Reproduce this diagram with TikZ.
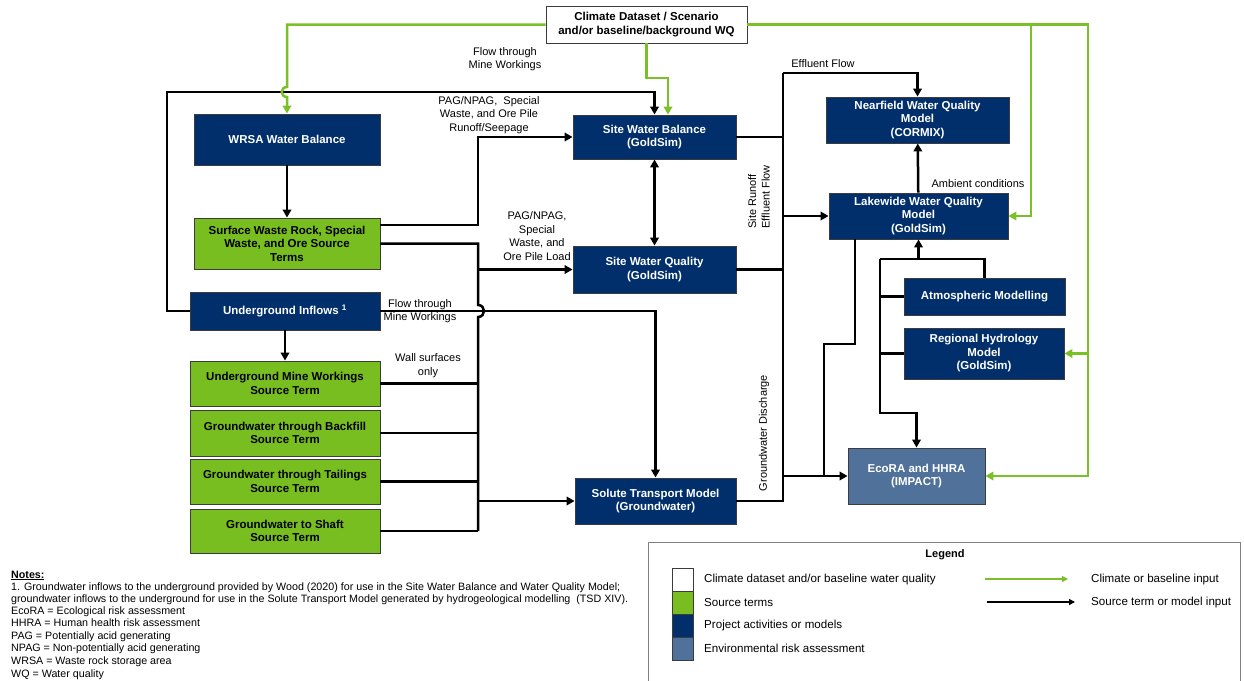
\documentclass[tikz,border=0pt]{standalone}
\usepackage{fontspec}
\setmainfont{Liberation Sans}
\usetikzlibrary{arrows.meta,calc}
\definecolor{navy}{RGB}{0,47,108}
\definecolor{srcgreen}{RGB}{120,190,32}
\definecolor{lngreen}{RGB}{122,193,40}
\definecolor{steel}{RGB}{80,113,153}
\definecolor{bordergray}{RGB}{60,60,60}
\definecolor{leggray}{RGB}{128,128,128}
\begin{document}
\begin{tikzpicture}[x=1pt,y=-1pt,
  box/.style={draw=bordergray,line width=0.9pt,align=center,inner sep=0pt,
    font=\fontsize{11.5}{13.5}\selectfont\bfseries},
  navybox/.style={box,fill=navy,text=white},
  srcbox/.style={box,fill=srcgreen,text=black},
  riskbox/.style={box,fill=steel,text=white},
  conn/.style={line width=2.5pt,black},
  arr/.style={conn,-{Triangle[length=8pt,width=8.5pt]}},
  darr/.style={conn,{Triangle[length=8pt,width=8.5pt]}-{Triangle[length=8pt,width=8.5pt]}},
  gconn/.style={line width=2.5pt,lngreen},
  garr/.style={gconn,-{Triangle[length=8pt,width=8.5pt]}},
  lbl/.style={font=\fontsize{11}{13.5}\selectfont,align=center,inner sep=0pt},
  note/.style={font=\fontsize{10.7}{12}\selectfont,inner sep=0pt,anchor=base west},
  leglbl/.style={font=\fontsize{11.6}{13}\selectfont,inner sep=0pt,anchor=west},
  swatch/.style={draw=bordergray,line width=0.6pt,minimum width=21pt,minimum height=23pt,inner sep=0pt},
]
\useasboundingbox (0,0) rectangle (1244,680);

% ---------- boxes ----------
\node[box,fill=white,minimum width=201pt,minimum height=37pt] (clim) at (646.5,24.5)
  {Climate Dataset / Scenario\\and/or baseline/background WQ};
\node[navybox,minimum width=186pt,minimum height=51pt] (wrsa) at (287,139.5) {WRSA Water Balance};
\node[srcbox,minimum width=186pt,minimum height=51pt] (sw) at (287,243.5)
  {Surface Waste Rock, Special\\Waste, and Ore Source\\Terms};
\node[navybox,minimum width=190pt,minimum height=38pt] (ugi) at (285,311)
  {Underground Inflows \textsuperscript{1}};
\node[srcbox,minimum width=190pt,minimum height=45pt] (umw) at (285,383.5)
  {Underground Mine Workings\\Source Term};
\node[srcbox,minimum width=190pt,minimum height=46pt] (gwb) at (285,433)
  {Groundwater through Backfill\\Source Term};
\node[srcbox,minimum width=190pt,minimum height=45pt] (gwt) at (285,481.5)
  {Groundwater through Tailings\\Source Term};
\node[srcbox,minimum width=190pt,minimum height=44pt] (gws) at (285,531)
  {Groundwater to Shaft\\Source Term};
\node[navybox,minimum width=163pt,minimum height=44pt] (swb) at (654.5,137)
  {Site Water Balance\\(GoldSim)};
\node[navybox,minimum width=163pt,minimum height=47pt] (swq) at (654.5,269.5)
  {Site Water Quality\\(GoldSim)};
\node[navybox,minimum width=161pt,minimum height=46pt] (stm) at (655.5,501)
  {Solute Transport Model\\(Groundwater)};
\node[navybox,minimum width=183pt,minimum height=46pt] (nf) at (917.5,120)
  {Nearfield Water Quality\\Model\\(CORMIX)};
\node[navybox,minimum width=179pt,minimum height=46pt] (lw) at (918.5,216)
  {Lakewide Water Quality\\Model\\(GoldSim)};
\node[navybox,minimum width=161pt,minimum height=37pt] (atm) at (984.5,296.5)
  {Atmospheric Modelling};
\node[navybox,minimum width=160pt,minimum height=51pt] (rh) at (984,353.5)
  {Regional Hydrology\\Model\\(GoldSim)};
\node[riskbox,minimum width=137pt,minimum height=56pt] (eco) at (916.5,476)
  {EcoRA and HHRA\\(IMPACT)};

% ---------- black connectors ----------
\draw[arr] (ugi.west) -- (167,311) -- (167,92) -| (swb.north);
\draw[arr] (wrsa) -- (sw);
\draw[arr] ([yshift=18.5pt]sw.east) -- (478,225) |- (swb.west);
\draw[conn] (sw.east) -- (478,243.5) -- (478,305)
  .. controls (486,305) and (486,317) .. (478,317) -- (478,531);
\draw[arr] (478,269.5) -- (swq.west);
\draw[arr] (478,501) -- (stm.west);
\draw[conn] (umw.east) -- (478,383.5);
\draw[conn] (gwb.east) -- (478,433);
\draw[conn] (gwt.east) -- (478,481.5);
\draw[conn] (gws.east) -- (478,531);
\draw[arr] (ugi.east) -| (stm.north);
\draw[arr] (ugi) -- (umw);
\draw[darr] (swb) -- (swq);
\draw[conn] (swb.east) -- (783,137);
\draw[conn] (swq.east) -- (783,269.5);
\draw[conn] (stm.east) -- (783,501) -- (783,73);
\draw[arr] (783,73) -| (nf.north);
\draw[arr] (783,216) -- (lw.west);
\draw[arr] (783,476) -- (eco.west);
\draw[arr] (lw) -- (nf);
\draw[conn] ([xshift=-63.5pt]lw.south) -- (855,344) -- (824,344) -- (824,476);
\draw[conn] (atm.north) -- (984.5,259) -- (880,259);
\draw[arr] (880,259) -- (880,413) -| (eco.north);
\draw[arr] (918.5,259) -- (lw.south);
\draw[conn] (atm.west) -- (880,296.5);
\draw[conn] (rh.west) -- (880,353.5);

% ---------- green connectors ----------
\draw[garr] (clim.west) -| (287,87) .. controls (280,87) and (280,97) .. (287,97) -- (wrsa.north);
\draw[garr] (clim.south) |- (668,78) -- ([xshift=13.5pt]swb.north);
\draw[garr] (clim.east) -- (1088,24.5) |- (eco.east);
\draw[garr] (1031,24.5) |- (lw.east);
\draw[garr] (1088,353.5) -- (rh.east);

% ---------- labels ----------
\node[lbl] (l1) at (505,59) {Flow through\\Mine Workings};
\node[lbl] (l2) at (489,115) {PAG/NPAG,\ \ Special\\Waste, and Ore Pile\\Runoff/Seepage};
\node[lbl] (l3) at (537,236) {PAG/NPAG,\\Special\\Waste, and\\Ore Pile Load};
\node[lbl] (l4) at (420,311) {Flow through\\Mine Workings};
\node[lbl] (l5) at (428,365.5) {Wall surfaces\\only};
\node[lbl] (l6) at (823,64) {Effluent Flow};
\node[lbl,rotate=90,align=left] (l7) at (759,197) {Site Runoff\\Effluent Flow};
\node[lbl] (l8) at (978,184) {Ambient conditions};
\node[lbl,rotate=90] (l9) at (764,433) {Groundwater Discharge};

% ---------- notes ----------
\node[note] (n0) at (11,578) {\underline{\textbf{Notes:}}};
\node[note] (n1) at (11,590.5) {1. Groundwater inflows to the underground provided by Wood (2020) for use in the Site Water Balance and Water Quality Model;};
\node[note] (n2) at (11,602.5) {groundwater inflows to the underground for use in the Solute Transport Model generated by hydrogeological modelling\ \ (TSD XIV).};
\node[note] (n3) at (11,614.5) {EcoRA = Ecological risk assessment};
\node[note] (n4) at (11,626.5) {HHRA\ = Human\ health risk assessment};
\node[note] (n5) at (11,639.5) {PAG = Potentially acid generating};
\node[note] (n6) at (11,651.5) {NPAG = Non-potentially acid generating};
\node[note] (n7) at (11,664.5) {WRSA = Waste rock storage area};
\node[note] (n8) at (11,677.5) {WQ = Water quality};

% ---------- legend ----------
\draw[leggray,line width=1pt] (648,690) -- (648,542) -- (1240,542) -- (1240,690);
\node[font=\fontsize{11}{13}\selectfont\bfseries,inner sep=0pt] (legt) at (945,555) {Legend};
\node[swatch,fill=white] (sw1) at (682.5,579.5) {};
\node[swatch,fill=srcgreen] (sw2) at (682.5,602.5) {};
\node[swatch,fill=navy] (sw3) at (682.5,625.5) {};
\node[swatch,fill=steel] (sw4) at (682.5,648.5) {};
\node[leglbl] (t1) at (704,579) {Climate dataset and/or baseline water quality};
\node[leglbl] (t2) at (704,602) {Source terms};
\node[leglbl] (t3) at (704,625) {Project activities or models};
\node[leglbl] (t4) at (704,648) {Environmental risk assessment};
\coordinate (ga) at (985,579);
\coordinate (gb) at (1068,579);
\coordinate (ba) at (987,602);
\coordinate (bb) at (1075,602);
\draw[lngreen,line width=1.2pt,-{Triangle[length=6pt,width=6pt]}] (ga) -- (gb);
\draw[black,line width=1.2pt,-{Triangle[length=6pt,width=6pt]}] (ba) -- (bb);
\node[leglbl] (t5) at (1091,579) {Climate or baseline input};
\node[leglbl] (t6) at (1091,602) {Source term or model input};
\end{tikzpicture}
\end{document}
